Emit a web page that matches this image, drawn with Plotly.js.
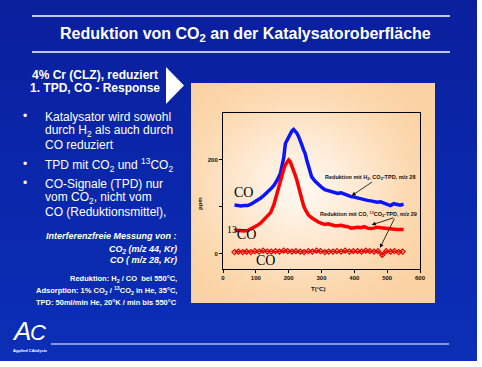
<!DOCTYPE html>
<html><head><meta charset="utf-8">
<script src="https://cdn.plot.ly/plotly-3.0.1.min.js"></script>
<style>
html,body{margin:0;padding:0;background:#fff;}
#wrap{position:relative;width:482px;height:367px;overflow:hidden;}
#slide{position:absolute;left:0;top:0;width:477px;height:361px;background:linear-gradient(to bottom,#0a1f9c 0%,#0a27ab 50%,#0b2fb6 100%);}
#panel{position:absolute;left:191px;top:83px;width:244px;height:220px;background:radial-gradient(ellipse 60% 60% at 45% 48%,#fffaf4 0%,#fee9d2 40%,#fcd9b0 75%,#fbd2a3 100%);}
#chart{position:absolute;left:0;top:0;width:482px;height:367px;}
</style></head>
<body>
<div id="wrap"><div id="slide"></div><div id="panel"></div><div id="chart"></div></div>
<script>
// ---- data ----
const tempH2 = [35,45,55,65,75,85,95,105,115,125,135,145,155,165,175,180,185,190,195,200,205,210,215,220,225,230,235,240,245,250,255,260,265,270,280,290,300,310,320,330,340,350,360,370,380,390,400,410,420,430,440,450,460,470,480,490,500,510,520,530,540,550];
const coH2 = [104,103,102,103,103,106,110,114,119,125,131,138,146,157,172,185,205,235,242,248,254,262,265,262,257,250,243,232,222,214,200,186,174,164,155,148,142,137,135,133,131,129,130,127,125,122,121,119,117,116,114,113,112,110,111,108,104,103,107,106,104,106];

const temp13 = [35,45,55,65,75,85,95,105,115,125,135,145,155,165,170,175,180,185,190,195,200,205,210,215,220,225,230,235,240,245,250,255,260,270,280,290,300,310,320,330,340,350,360,370,380,390,400,410,420,430,440,450,460,470,480,490,500,510,520,530,540,550];
const co13 = [51,50,50,49,50,53,57,61,66,73,80,88,105,132,146,158,170,180,190,196,200,196,188,179,168,157,143,128,116,104,95,88,83,77,72,68,65,63,64,62,60,60,61,59,58,55,56,57,56,58,55,54,55,57,56,55,54,54,53,52,52,52];

const tempCO = [35,47,60,72,85,97,110,122,135,147,160,172,185,197,210,222,235,247,260,272,285,297,310,322,335,347,360,372,385,397,410,422,435,447,460,472,485,497,510,522,535,547];
const coCO = [4,5,4,5,4,6,5,7,5,5,6,5,7,6,5,6,5,4,6,5,7,6,4,5,5,6,5,7,5,6,6,5,7,6,5,6,-2,6,5,6,4,5];

const xTicks = [0,100,200,300,400,500,600];
const yTicks = [0,100,200];
const yTickText = ['0','','200'];

// ---- layout helpers ----
const W = 482, H = 367;
const px = (x) => x / W;
const py = (y) => 1 - y / H;
const FONT = 'Arial, "Liberation Sans", sans-serif';
const SERIF = '"Times New Roman", "Liberation Serif", serif';

const traces = [
  {x: tempH2, y: coH2, type: 'scatter', mode: 'lines', line: {color: '#0a14ff', width: 3.5}, hoverinfo: 'skip'},
  {x: temp13, y: co13, type: 'scatter', mode: 'lines', line: {color: '#ff0000', width: 3.5}, hoverinfo: 'skip'},
  {x: tempCO, y: coCO, type: 'scatter', mode: 'lines+markers', line: {color: '#ee0000', width: 1.5},
   marker: {symbol: 'diamond-open', size: 4, color: '#ee0000', line: {width: 1.2}}, hoverinfo: 'skip'}
];

function txt(text, x, y, size, opts) {
  return Object.assign({text: text, x: px(x), y: py(y), xref: 'paper', yref: 'paper', showarrow: false, borderpad: 0,
    xanchor: 'left', yanchor: 'middle', font: {family: FONT, size: size, color: '#ffffff'}}, opts || {});
}

const annotations = [
  txt('<b>Reduktion von CO<sub>2</sub> an der Katalysatoroberfläche</b>', 245, 34, 16, {xanchor: 'center'}),
  txt('<b>4% Cr (CLZ), reduziert</b>', 95, 75, 12, {xanchor: 'center'}),
  txt('<b>1. TPD, CO - Response</b>', 95, 88, 12, {xanchor: 'center'}),
  txt('•', 25, 116, 12, {xanchor: 'center'}),
  txt('Katalysator wird sowohl', 44, 117, 12),
  txt('durch H<sub>2</sub> als auch durch', 44, 131, 12),
  txt('CO reduziert', 44, 145, 12),
  txt('•', 25, 164, 12, {xanchor: 'center'}),
  txt('TPD mit CO<sub>2</sub> und <sup>13</sup>CO<sub>2</sub>', 44, 165, 12),
  txt('•', 25, 183, 12, {xanchor: 'center'}),
  txt('CO-Signale (TPD) nur', 44, 184, 12),
  txt('vom CO<sub>2</sub>, nicht vom', 44, 198, 12),
  txt('CO (Reduktionsmittel),', 44, 212, 12),
  txt('<b><i>Interferenzfreie Messung von :</i></b>', 178, 236, 9, {xanchor: 'right'}),
  txt('<b><i>CO<sub>2</sub> (m/z 44, Kr)</i></b>', 178, 249, 9, {xanchor: 'right'}),
  txt('<b><i>CO ( m/z 28, Kr)</i></b>', 178, 260, 9, {xanchor: 'right'}),
  txt('<b>Reduktion: H<sub>2</sub> / CO  bei 550°C,</b>', 178, 279, 7.5, {xanchor: 'right'}),
  txt('<b>Adsorption: 1% CO<sub>2</sub> / <sup>13</sup>CO<sub>2</sub> in He, 35°C,</b>', 178, 290, 7.5, {xanchor: 'right'}),
  txt('<b>TPD: 50ml/min He, 20°K / min bis 550°C</b>', 178, 302, 7.5, {xanchor: 'right'}),
  // logo
  txt('<i>A</i>', 21, 331, 26, {xanchor: 'center', font: {family: FONT, size: 26, color: '#ffffff'}}),
  txt('<i>C</i>', 38, 332, 22, {xanchor: 'center', font: {family: FONT, size: 22, color: '#ffffff'}}),
  txt('<b>Applied CAtalysis</b>', 12, 350, 4),
  // axis titles
  txt('<b>ppm</b>', 200, 204, 6, {xanchor: 'center', textangle: -90, font: {family: FONT, size: 6, color: '#111'}}),
  txt('<b>T(°C)</b>', 318, 289, 6, {xanchor: 'center', font: {family: FONT, size: 6, color: '#111'}}),
  // curve labels
  {text: 'CO', x: 61, y: 130, xref: 'x', yref: 'y', showarrow: false, font: {family: SERIF, size: 14, color: '#000'}},
  {text: '<sup>13</sup>CO', x: 56, y: 45, xref: 'x', yref: 'y', showarrow: false, font: {family: SERIF, size: 14, color: '#000'}},
  {text: 'CO', x: 128, y: -14, xref: 'x', yref: 'y', showarrow: false, font: {family: SERIF, size: 14, color: '#000'}},
  {text: '<b>Reduktion mit H<sub>2</sub>, CO<sub>2</sub>-TPD, m/z 28</b>', x: 448, y: 162, xref: 'x', yref: 'y', showarrow: false,
   font: {family: FONT, size: 5.5, color: '#111'}},
  {text: '<b>Reduktion mit CO, <span style="color:#e00000"><sup>13</sup></span>CO<sub>2</sub>-TPD, m/z 29</b>', x: 442, y: 83, xref: 'x', yref: 'y', showarrow: false,
   font: {family: FONT, size: 5.5, color: '#111'}},
  // arrows
  {text: '', x: 392, y: 124, ax: 458, ay: 155, xref: 'x', yref: 'y', axref: 'x', ayref: 'y', showarrow: true,
   arrowhead: 2, arrowsize: 1, arrowwidth: 0.8, arrowcolor: '#000'},
  {text: '', x: 453, y: 62, ax: 524, ay: 78, xref: 'x', yref: 'y', axref: 'x', ayref: 'y', showarrow: true,
   arrowhead: 2, arrowsize: 1, arrowwidth: 0.8, arrowcolor: '#000'},
  {text: '', x: 478, y: 13, ax: 524, ay: 78, xref: 'x', yref: 'y', axref: 'x', ayref: 'y', showarrow: true,
   arrowhead: 2, arrowsize: 1, arrowwidth: 0.8, arrowcolor: '#000'}
];

const shapes = [
  {type: 'line', xref: 'paper', yref: 'paper', x0: px(32), x1: px(450), y0: py(16), y1: py(16), line: {color: '#fff', width: 1.5}},
  {type: 'line', xref: 'paper', yref: 'paper', x0: px(32), x1: px(450), y0: py(52), y1: py(52), line: {color: '#fff', width: 1.5}},
  {type: 'line', xref: 'paper', yref: 'paper', x0: px(51), x1: px(449), y0: py(344), y1: py(344), line: {color: '#fff', width: 1.2}},
  {type: 'path', xref: 'paper', yref: 'paper',
   path: 'M ' + px(166) + ' ' + py(67) + ' L ' + px(166) + ' ' + py(104) + ' L ' + px(184) + ' ' + py(85.5) + ' Z',
   fillcolor: '#ffffff', line: {width: 0}}
];

const layout = {
  width: W, height: H,
  margin: {l: 0, r: 0, t: 0, b: 0},
  paper_bgcolor: 'rgba(0,0,0,0)', plot_bgcolor: 'rgba(0,0,0,0)',
  showlegend: false,
  xaxis: {domain: [px(223), px(420)], range: [0, 600], tickvals: xTicks, ticks: 'outside', ticklen: 3, tickwidth: 1,
    tickcolor: '#000', showline: true, mirror: true, linecolor: '#000', linewidth: 1, showgrid: false, zeroline: false,
    tickfont: {family: FONT, size: 6, color: '#111', weight: 'bold'}, fixedrange: true},
  yaxis: {domain: [py(269), py(113)], range: [-32, 300], tickvals: yTicks, ticktext: yTickText, ticks: 'outside', ticklen: 3, tickwidth: 1,
    tickcolor: '#000', showline: true, mirror: true, linecolor: '#000', linewidth: 1, showgrid: false, zeroline: false,
    tickfont: {family: FONT, size: 6, color: '#111', weight: 'bold'}, fixedrange: true},
  annotations: annotations,
  shapes: shapes
};

Plotly.newPlot('chart', traces, layout, {staticPlot: true, displayModeBar: false});
</script>
</body></html>
